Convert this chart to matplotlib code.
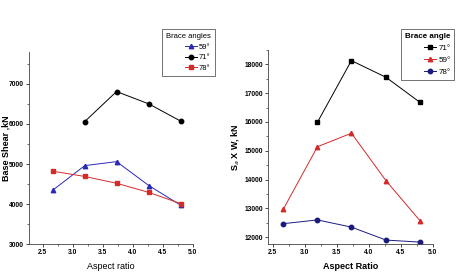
import matplotlib
matplotlib.use('Agg')
import matplotlib.pyplot as plt
from matplotlib.ticker import MultipleLocator

plt.rcParams['font.family'] = ['Liberation Sans Narrow', 'Liberation Sans', 'DejaVu Sans']

# left panel: base shear
ar = [2.67, 3.2, 3.73, 4.27, 4.8]
ar71 = [3.2, 3.73, 4.27, 4.8]
vb_59 = [4350, 4960, 5060, 4460, 3970]
vb_71 = [6060, 6810, 6500, 6070]
vb_78 = [4820, 4690, 4520, 4290, 4010]

# right panel: Sa x W
sw_71 = [15990, 18130, 17550, 16680]
sw_59 = [12980, 15140, 15610, 13960, 12570]
sw_78 = [12470, 12600, 12350, 11900, 11830]

fig = plt.figure(figsize=(4.59, 2.79), dpi=100)
ax1 = fig.add_axes([0.063, 0.125, 0.357, 0.689])
ax2 = fig.add_axes([0.584, 0.124, 0.359, 0.697])

lw = 0.7
ms = 3.2
ax1.plot(ar, vb_59, color='#2a2ab8', marker='^', ms=ms, lw=lw, label='59°')
ax1.plot(ar71, vb_71, color='black', marker='o', ms=ms, lw=lw, label='71°')
ax1.plot(ar, vb_78, color='#d42a2a', marker='s', ms=ms, lw=lw, label='78°')
ax1.set_xlim(2.27, 5.0)
ax1.set_ylim(3000, 7800)
ax1.yaxis.set_major_locator(MultipleLocator(1000))
ax1.yaxis.set_minor_locator(MultipleLocator(500))
ax1.set_xlabel('Aspect ratio', fontsize=6.5)
ax1.set_ylabel('Base Shear ,kN', fontsize=6.5, fontweight='bold')
ax1.yaxis.set_label_coords(-0.115, 0.5)

ax2.plot(ar71, sw_71, color='black', marker='s', ms=ms, lw=lw, label='71°')
ax2.plot(ar, sw_59, color='#d42a2a', marker='^', ms=ms, lw=lw, label='59°')
ax2.plot(ar, sw_78, color='#1a1a80', marker='o', ms=ms, lw=lw, label='78°')
ax2.set_xlim(2.43, 5.0)
ax2.set_ylim(11750, 18500)
ax2.yaxis.set_major_locator(MultipleLocator(1000))
ax2.yaxis.set_minor_locator(MultipleLocator(500))
ax2.set_xlabel('Aspect Ratio', fontsize=6.5, fontweight='bold')
ax2.set_ylabel('S$_a$ X W, kN', fontsize=6.5, fontweight='bold')
ax2.yaxis.set_label_coords(-0.165, 0.5)

for ax in (ax1, ax2):
    ax.spines['top'].set_visible(False)
    ax.spines['right'].set_visible(False)
    for s in ('left', 'bottom'):
        ax.spines[s].set_linewidth(0.6)
        ax.spines[s].set_color('#444444')
    ax.xaxis.set_major_locator(MultipleLocator(0.5))
    ax.xaxis.set_minor_locator(MultipleLocator(0.25))
    ax.tick_params(labelsize=4.8, width=0.5, length=2, pad=1.5)
    ax.tick_params(which='minor', width=0.4, length=1.2)
    for t in ax.get_xticklabels() + ax.get_yticklabels():
        t.set_fontweight('bold')

leg1 = ax1.legend(title='Brace angles', loc='upper left', bbox_to_anchor=(162 / 459, 1 - 29 / 279),
                  bbox_transform=fig.transFigure, fontsize=5.5, title_fontsize=5.5,
                  handlelength=1.5, handletextpad=0.3, borderpad=0.5, labelspacing=0.45,
                  fancybox=False, edgecolor='#333333', borderaxespad=0)
leg1.get_frame().set_linewidth(0.6)
leg1._legend_box.align = 'right'

leg2 = ax2.legend(title='Brace angle', loc='upper left', bbox_to_anchor=(401 / 459, 1 - 29 / 279),
                  bbox_transform=fig.transFigure, fontsize=5.8, title_fontsize=5.8,
                  handlelength=1.5, handletextpad=0.3, borderpad=0.5, labelspacing=0.55,
                  fancybox=False, edgecolor='#333333', borderaxespad=0)
leg2.get_frame().set_linewidth(0.6)
leg2.get_title().set_fontweight('bold')
leg2._legend_box.align = 'right'

fig.savefig('out.png', dpi=100)
